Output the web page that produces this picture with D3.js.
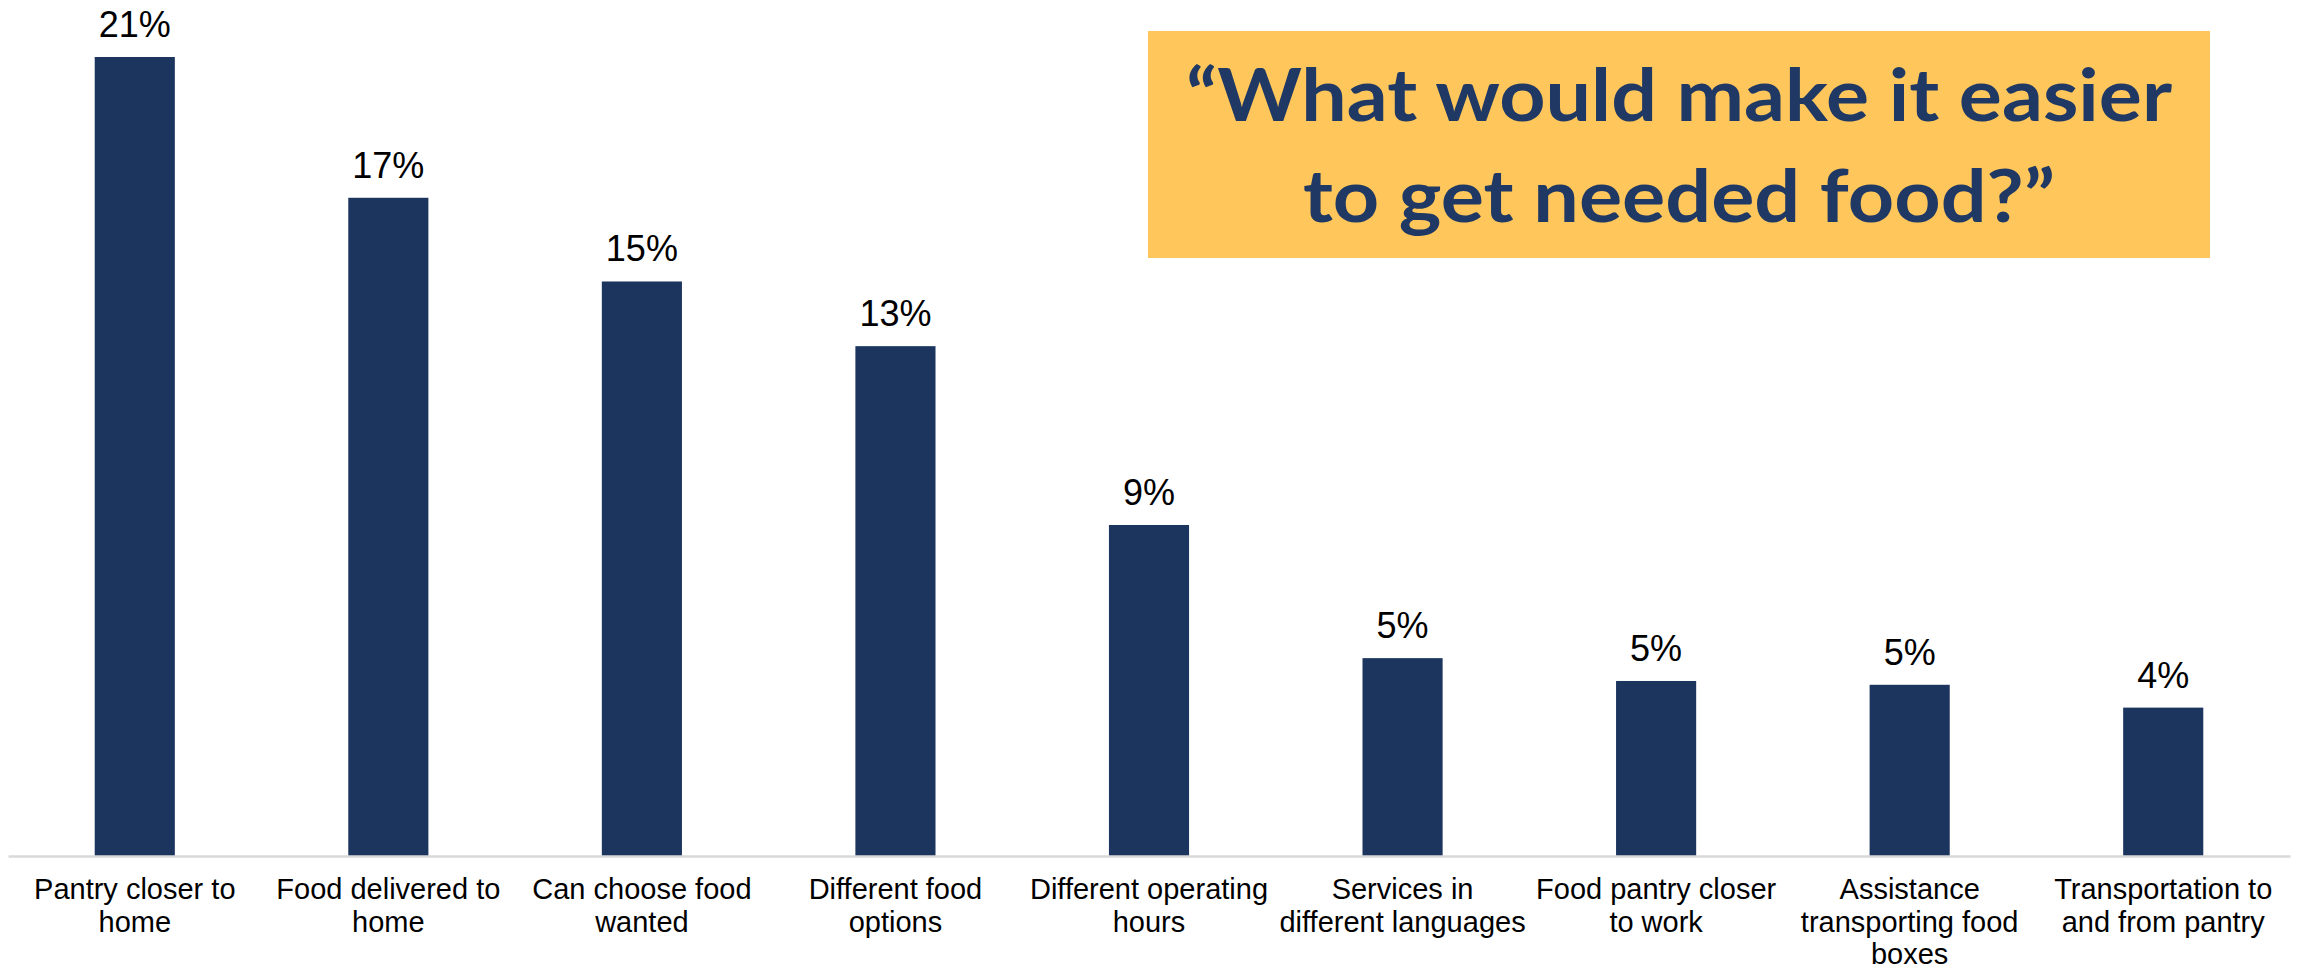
<!DOCTYPE html>
<html>
<head>
<meta charset="utf-8">
<script src="https://cdn.jsdelivr.net/npm/d3@7"></script>
<style>
  html, body { margin: 0; padding: 0; background: #ffffff; }
  svg { display: block; }
</style>
</head>
<body>
<svg id="chart" width="2300" height="970"></svg>
<script>
// ---- data ----
const categories = [
  "Pantry closer to home",
  "Food delivered to home",
  "Can choose food wanted",
  "Different food options",
  "Different operating hours",
  "Services in different languages",
  "Food pantry closer to work",
  "Assistance transporting food boxes",
  "Transportation to and from pantry"
];
const categoryLines = [
  ["Pantry closer to", "home"],
  ["Food delivered to", "home"],
  ["Can choose food", "wanted"],
  ["Different food", "options"],
  ["Different operating", "hours"],
  ["Services in", "different languages"],
  ["Food pantry closer", "to work"],
  ["Assistance", "transporting food", "boxes"],
  ["Transportation to", "and from pantry"]
];
const values = [21.0, 17.3, 15.1, 13.4, 8.7, 5.2, 4.6, 4.5, 3.9];
const valueLabels = ["21%", "17%", "15%", "13%", "9%", "5%", "5%", "5%", "4%"];
const titleLines = ["\u201CWhat would make it easier", "to get needed food?\u201D"];

// ---- layout ----
const W = 2300, H = 970;
const svg = d3.select("#chart");
svg.append("rect").attr("width", W).attr("height", H).attr("fill", "#ffffff");

const x = d3.scaleBand()
  .domain(categories)
  .range([8, 2290])
  .paddingInner(0.684)
  .paddingOuter(0.342);

const y = d3.scaleLinear()
  .domain([0, 21])
  .range([856, 57]);

const barColor = "#1C355E";

// bars
svg.append("g").selectAll("rect")
  .data(values)
  .join("rect")
  .attr("x", (d, i) => x(categories[i]))
  .attr("width", x.bandwidth())
  .attr("y", d => y(d))
  .attr("height", d => y(0) - y(d))
  .attr("fill", barColor);

// value labels
svg.append("g").selectAll("text")
  .data(values)
  .join("text")
  .attr("x", (d, i) => x(categories[i]) + x.bandwidth() / 2)
  .attr("y", d => y(d) - 20)
  .attr("text-anchor", "middle")
  .attr("font-family", "Liberation Sans, Arial, sans-serif")
  .attr("font-size", 36)
  .attr("fill", "#000000")
  .text((d, i) => valueLabels[i]);

// x axis
const axis = svg.append("g")
  .attr("transform", `translate(0,${y(0)})`)
  .call(d3.axisBottom(x).tickSize(0).tickPadding(0));
axis.select(".domain").attr("stroke", "#D9D9D9").attr("stroke-width", 2.5);
axis.selectAll(".tick text").each(function(d) {
  const i = categories.indexOf(d);
  const t = d3.select(this);
  t.text(null)
    .attr("y", 0)
    .attr("dy", null)
    .attr("fill", "#000000")
    .attr("font-family", "Liberation Sans, Arial, sans-serif")
    .attr("font-size", 29);
  categoryLines[i].forEach((line, k) => {
    t.append("tspan")
      .attr("x", 0)
      .attr("y", 43 + k * 32.5)
      .text(line);
  });
});

// title box
const boxX = 1148, boxY = 31, boxW = 1062, boxH = 227;
svg.append("rect")
  .attr("x", boxX).attr("y", boxY)
  .attr("width", boxW).attr("height", boxH)
  .attr("fill", "#FEC65B");

const titleWidths = [986, 752];
const titleBaselines = [121, 222];
titleLines.forEach((line, k) => {
  svg.append("text")
    .attr("x", boxX + boxW / 2)
    .attr("y", titleBaselines[k])
    .attr("text-anchor", "middle")
    .attr("font-family", "Lato, 'Open Sans', sans-serif")
    .attr("font-weight", "bold")
    .attr("font-size", 72)
    .attr("fill", "#1F3864")
    .attr("textLength", titleWidths[k])
    .attr("lengthAdjust", "spacingAndGlyphs")
    .text(line);
});
</script>
</body>
</html>
